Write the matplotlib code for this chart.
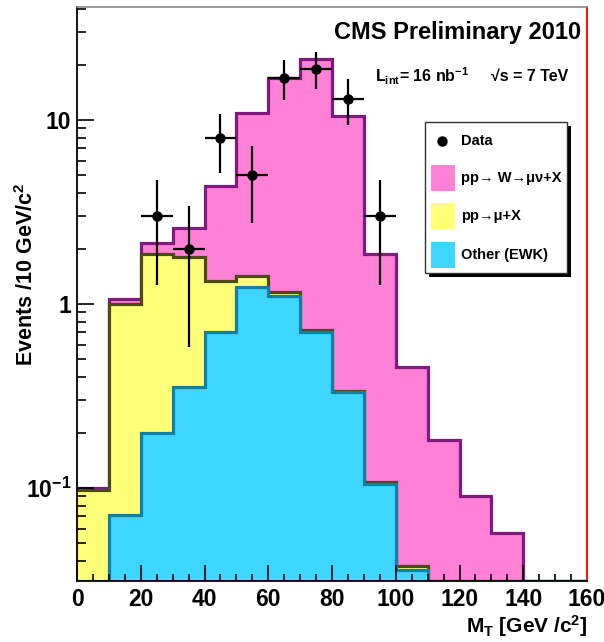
import numpy as np
import matplotlib
matplotlib.use("Agg")
import matplotlib.pyplot as plt
from matplotlib.patches import Rectangle
from matplotlib.lines import Line2D
from matplotlib.ticker import FixedLocator, NullFormatter, MultipleLocator

plt.rcParams['font.family'] = ['Liberation Sans', 'DejaVu Sans']
plt.rcParams['font.weight'] = 'bold'
plt.rcParams['mathtext.fontset'] = 'custom'
plt.rcParams['mathtext.rm'] = 'Liberation Sans:bold'
plt.rcParams['mathtext.it'] = 'Liberation Sans:bold'
plt.rcParams['mathtext.bf'] = 'Liberation Sans:bold'

# ---- data ----
bin_edges = np.arange(0, 170, 10)  # 0..160 GeV
ewk   = [0.0, 0.071, 0.20, 0.352, 0.70, 1.23, 1.105, 0.707, 0.33, 0.105, 0.036, 0, 0, 0, 0, 0]
qcd   = [0.097, 0.929, 1.67, 1.438, 0.63, 0.18, 0.055, 0.013, 0.008, 0.002, 0.0017, 0, 0, 0, 0, 0]
wmunu = [0.003, 0.06, 0.27, 0.81, 3.05, 9.49, 15.74, 20.68, 10.16, 1.75, 0.415, 0.182, 0.09, 0.057, 0, 0]
data  = [0, 0, 3, 2, 8, 5, 17, 19, 13, 3, 0, 0, 0, 0, 0, 0]

labels = ["Data", "pp\u2192 W\u2192\u03bc\u03bd+X", "pp\u2192\u03bc+X", "Other (EWK)"]

c_w, c_w_edge = "#ff80d5", "#801a80"
c_q, c_q_edge = "#ffff78", "#4a4a12"
c_e, c_e_edge = "#3cd6ff", "#137fa3"

W, H = 604, 642
fig = plt.figure(figsize=(W / 100, H / 100), dpi=100)
L, R, T, B = 77, 587, 7, 580.7
ax = fig.add_axes([L / W, 1 - B / H, (R - L) / W, (B - T) / H])
ax.set_yscale('log')
ymin, ymax = 0.0313, 41.1
ax.set_xlim(0, 160)
ax.set_ylim(ymin, ymax)

ewk_a = np.array(ewk)
qcd_cum = ewk_a + np.array(qcd)
tot = qcd_cum + np.array(wmunu)

def pos(v):
    v = np.asarray(v, dtype=float)
    return np.where(v > 0, v, ymin)

for vals, fc, ec in [(tot, c_w, c_w_edge), (qcd_cum, c_q, c_q_edge), (ewk_a, c_e, c_e_edge)]:
    ax.stairs(pos(vals), bin_edges, baseline=1e-4, fill=True, color=fc, lw=0)
    ax.stairs(pos(vals), bin_edges, baseline=None, fill=False, color=ec, lw=2.3)

centers = 0.5 * (bin_edges[:-1] + bin_edges[1:])
d = np.array(data, dtype=float)
m = d > 0
ax.errorbar(centers[m], d[m], xerr=5, yerr=np.sqrt(d[m]), fmt='o', color='black',
            ms=6.5, elinewidth=1.6, capsize=0, zorder=10)

# ticks
ax.xaxis.set_major_locator(MultipleLocator(20))
ax.xaxis.set_minor_locator(MultipleLocator(5))
ax.yaxis.set_major_locator(FixedLocator([0.1, 1, 10]))
minors = [k * 10.0 ** e for e in (-2, -1, 0, 1) for k in range(2, 10)]
ax.yaxis.set_minor_locator(FixedLocator(minors))
ax.yaxis.set_minor_formatter(NullFormatter())
ax.set_yticklabels(["10$^{-1}$", "1", "10"])
ax.tick_params(axis='both', which='both', direction='in', top=False, right=False,
               labelsize=16.5, width=1.2)
ax.tick_params(axis='x', which='major', length=11.5, pad=5)
ax.tick_params(axis='x', which='minor', length=5)
ax.tick_params(axis='y', which='major', length=12, pad=4)
ax.tick_params(axis='y', which='minor', length=6.5)
for lab in ax.get_xticklabels() + ax.get_yticklabels():
    lab.set_fontweight('bold')

for s in ('left', 'bottom'):
    ax.spines[s].set_linewidth(1.3)
    ax.spines[s].set_color('black')
ax.spines['top'].set_color('#888888')
ax.spines['top'].set_linewidth(1.2)
ax.spines['right'].set_color('#e02010')
ax.spines['right'].set_linewidth(1.5)

def fx(x):
    return x / W

def fy(y):
    return 1 - y / H

fig.text(fx(588), fy(626), "M$_{\\rm T}$ [GeV /c$^{2}$]", ha='right', va='center',
         fontsize=15, fontweight='bold')
fig.text(fx(27), fy(274), "Events /10 GeV/c$^{2}$", rotation=90, ha='center', va='center',
         fontsize=15.5, fontweight='bold')

fig.text(fx(581), fy(33), "CMS Preliminary 2010", ha='right', va='center',
         fontsize=17, fontweight='bold')
fig.text(fx(375), fy(76), "L$_{\\rm int}$= 16 nb$^{-1}$", ha='left', va='center',
         fontsize=11.5, fontweight='bold')
fig.text(fx(568), fy(76), "\u221as = 7 TeV", ha='right', va='center',
         fontsize=11.5, fontweight='bold', family=['Liberation Sans', 'DejaVu Sans'])

# legend (manual, ROOT style)
lx0, ly0, lx1, ly1 = 425, 122, 567, 273
fig.patches.append(Rectangle((fx(lx0 + 4), fy(ly1 + 4)), (lx1 - lx0) / W, (ly1 - ly0) / H,
                             transform=fig.transFigure, facecolor='black', edgecolor='none', zorder=20))
fig.patches.append(Rectangle((fx(lx0), fy(ly1)), (lx1 - lx0) / W, (ly1 - ly0) / H,
                             transform=fig.transFigure, facecolor='white', edgecolor='#333333',
                             lw=1.0, zorder=21))
fig.lines.append(Line2D([fx(442)], [fy(141)], marker='o', ms=6.5, color='black',
                        transform=fig.transFigure, zorder=22))
rows = [(178, c_w), (216, c_q), (255, c_e)]
for yc, col in rows:
    fig.patches.append(Rectangle((fx(431), fy(yc + 13)), 24 / W, 26 / H, transform=fig.transFigure,
                                 facecolor=col, edgecolor='none', zorder=22))
for yc, lab in zip([141, 178, 216, 255], labels):
    fig.text(fx(461), fy(yc), lab, ha='left', va='center', fontsize=10.5, fontweight='bold',
             zorder=23, family=['Liberation Sans', 'DejaVu Sans'])

fig.savefig("out.png", dpi=100)
